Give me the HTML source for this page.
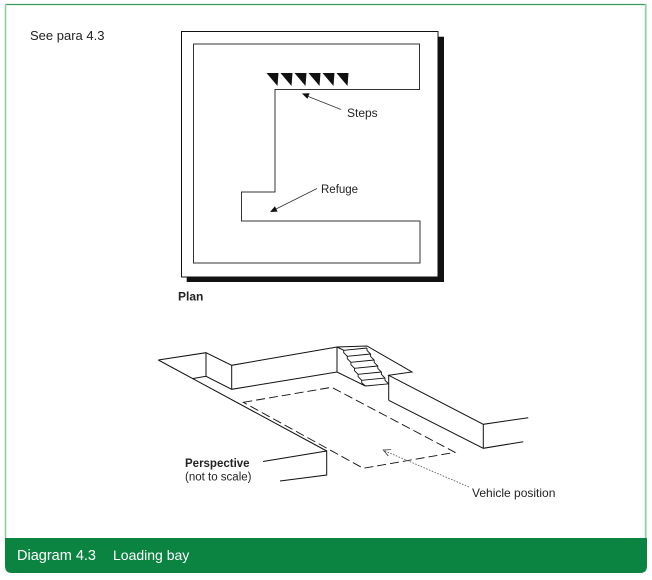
<!DOCTYPE html>
<html><head><meta charset="utf-8"><style>
html,body{margin:0;padding:0;background:#fff;}
svg{display:block;}
text{font-family:"Liberation Sans",sans-serif;}
</style></head><body>
<svg width="652" height="580" viewBox="0 0 652 580" xmlns="http://www.w3.org/2000/svg">
<!-- frame -->
<line x1="5" y1="4.5" x2="646" y2="4.5" stroke="#3a9a5e" stroke-width="1.2"/>
<line x1="5.5" y1="4" x2="5.5" y2="540" stroke="#8fcfa6" stroke-width="1.6"/>
<line x1="645.7" y1="4" x2="645.7" y2="540" stroke="#8fcfa6" stroke-width="1.8"/>
<path d="M5,538 H647 V566 Q647,573 640,573 H12 Q5,573 5,566 Z" fill="#0b8441"/>
<text x="17" y="560" font-size="14.5" fill="#fff">Diagram 4.3</text>
<text x="113" y="560" font-size="14" fill="#fff">Loading bay</text>

<text x="30" y="40" font-size="13" fill="#222">See para 4.3</text>

<!-- plan -->
<path d="M438,36.7 H444 V282 H186.7 V277 H438 Z" fill="#111"/>
<rect x="181.5" y="31.5" width="256.5" height="245.5" fill="#fff" stroke="#111" stroke-width="1"/>
<path d="M275,89.5 H419.5 V44 H193.5 V263 H420 V221 H241.5 V192 H275 Z" fill="none" stroke="#333" stroke-width="1"/>
<g fill="#111">
<polygon points="266.5,73 278.5,73 277.5,86"/>
<polygon points="280.5,73 292.5,73 291.5,86"/>
<polygon points="294.5,73 306.5,73 305.5,86"/>
<polygon points="308.5,73 320.5,73 319.5,86"/>
<polygon points="322.5,73 334.5,73 333.5,86"/>
<polygon points="336.5,73 348.5,73 347.5,86"/>
</g>
<line x1="341" y1="109.5" x2="307" y2="96" stroke="#333" stroke-width="0.8"/>
<polygon points="302,93.5 309.6,93.3 307.4,98.9" fill="#111"/>
<text x="347" y="117" font-size="12" fill="#222">Steps</text>
<line x1="317" y1="188.5" x2="275" y2="209.5" stroke="#333" stroke-width="0.8"/>
<polygon points="270,212 277.6,211.6 274.9,206.2" fill="#111"/>
<text x="321" y="193" font-size="11.5" fill="#222">Refuge</text>
<text x="178" y="300.5" font-size="12" font-weight="bold" fill="#222">Plan</text>

<!-- perspective -->
<g stroke="#111" stroke-width="1" fill="none" stroke-linejoin="miter">
<polyline points="158.3,360 206,352.7 231.7,365.3 337,347 367,346 412,372 388.7,375.3 483.3,424.3 528.3,417.7"/>
<line x1="206" y1="352.7" x2="206" y2="376.3"/>
<polyline points="192.5,378.6 206,376.3 231.7,389.3 337,372 365.4,386"/>
<line x1="231.7" y1="365.3" x2="231.7" y2="389.3"/>
<line x1="337" y1="347" x2="337" y2="372"/>
<line x1="158.3" y1="360" x2="326.7" y2="451"/>
<polyline points="263,461.5 326.7,451 326.7,475 280,481"/>
<line x1="388.7" y1="375.3" x2="388.7" y2="400.3"/>
<polyline points="388.7,400.3 483.3,448.3 523.3,441.7"/>
<line x1="483.3" y1="424.3" x2="483.3" y2="448.3"/>
<!-- stairs -->
<line x1="337" y1="347" x2="343.7" y2="350.3"/>
<g stroke-width="0.9">
<polyline points="343.7,350.3 343.7,352.7 347.3,356.3 347.3,358.7 350.9,362.3 350.9,364.7 354.5,368.3 354.5,370.7 358.1,374.3 358.1,376.7 361.7,380.3 361.7,382.7 365.4,386"/>
<polyline points="367,348 367,350.4 370.6,354 370.6,356.4 374.2,360 374.2,362.4 377.8,366 377.8,368.4 381.4,372 381.4,374.4 385,378 385,380.4 388.7,383.8"/>
<line x1="343.7" y1="350.3" x2="367" y2="348"/>
<line x1="347.3" y1="356.3" x2="370.6" y2="354"/>
<line x1="350.9" y1="362.3" x2="374.2" y2="360"/>
<line x1="354.5" y1="368.3" x2="377.8" y2="366"/>
<line x1="358.1" y1="374.3" x2="381.4" y2="372"/>
<line x1="361.7" y1="380.3" x2="385" y2="378"/>
<line x1="365.4" y1="386" x2="388.7" y2="383.8"/>
</g>
<!-- vehicle dashed -->
<polygon points="243.3,402.3 331.7,387.3 455,452.3 363.3,468.3" stroke-dasharray="9 4" stroke-width="0.9"/>
</g>
<!-- vehicle arrow -->
<line x1="469" y1="487" x2="385" y2="451" stroke="#555" stroke-width="0.8" stroke-dasharray="1.6 1.4"/>
<polyline points="391.1,449.6 383.3,450 388.3,456" fill="none" stroke="#333" stroke-width="0.8"/>
<text x="472" y="497" font-size="12" fill="#222">Vehicle position</text>
<text x="185" y="467" font-size="11.5" font-weight="bold" fill="#222">Perspective</text>
<text x="185" y="480.5" font-size="11.5" fill="#222">(not to scale)</text>
</svg>
</body></html>
